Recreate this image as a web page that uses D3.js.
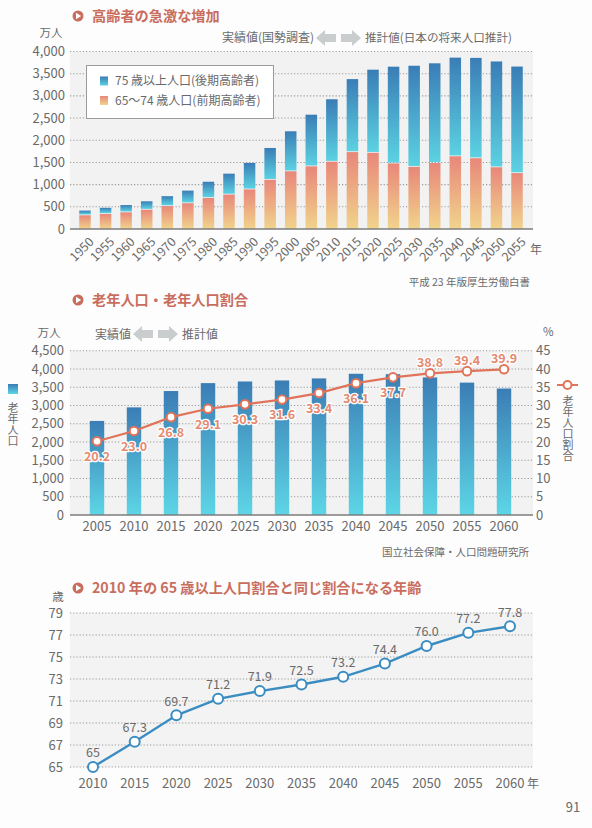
<!DOCTYPE html>
<html>
<head>
<meta charset="utf-8">
<script src="https://cdn.jsdelivr.net/npm/d3@7"></script>
<style>
  html, body { margin: 0; padding: 0; background: #fdfdfd; }
  svg { display: block; font-family: "Noto Sans CJK JP", "Noto Sans", sans-serif; }
</style>
</head>
<body>
<div id="chart"></div>
<script>
(function(d3) {
  'use strict';

  // chart 1: 高齢者の急激な増加 (万人)
  var years1 = ['1950','1955','1960','1965','1970','1975','1980','1985','1990','1995','2000',
                '2005','2010','2015','2020','2025','2030','2035','2040','2045','2050','2055'];
  var old75 = [106, 139, 164, 189, 224, 284, 366, 471, 597, 717, 901,
               1164, 1407, 1645, 1872, 2179, 2278, 2245, 2223, 2261, 2385, 2401];
  var old65 = [309, 339, 376, 435, 516, 581, 699, 776, 892, 1109, 1301,
               1412, 1517, 1733, 1718, 1479, 1401, 1489, 1639, 1595, 1391, 1260];
  var ticks1 = [0, 500, 1000, 1500, 2000, 2500, 3000, 3500, 4000];

  // chart 2: 老年人口・老年人口割合
  var years2 = ['2005','2010','2015','2020','2025','2030','2035','2040','2045','2050','2055','2060'];
  var pop2 = [2576, 2948, 3395, 3612, 3657, 3685, 3741, 3868, 3856, 3768, 3626, 3464];
  var ratio2 = [20.2, 23.0, 26.8, 29.1, 30.3, 31.6, 33.4, 36.1, 37.7, 38.8, 39.4, 39.9];
  var ticks2L = [0, 500, 1000, 1500, 2000, 2500, 3000, 3500, 4000, 4500];
  var ticks2R = [0, 5, 10, 15, 20, 25, 30, 35, 40, 45];

  // chart 3: 2010年の65歳以上人口割合と同じ割合になる年齢
  var years3 = ['2010','2015','2020','2025','2030','2035','2040','2045','2050','2055','2060'];
  var age3 = [65, 67.3, 69.7, 71.2, 71.9, 72.5, 73.2, 74.4, 76.0, 77.2, 77.8];
  var ageLabels3 = ['65','67.3','69.7','71.2','71.9','72.5','73.2','74.4','76.0','77.2','77.8'];
  var ticks3 = [65, 67, 69, 71, 73, 75, 77, 79];

  var width = 592, height = 828;
  var titleColor = '#c96e5e';
  var textColor = '#6a6a6a';
  var gridColor = '#9a9a9a';
  var left = 70, right = 533;

  var svg = d3.select('#chart').append('svg')
    .attr('width', width)
    .attr('height', height);

  var defs = svg.append('defs');
  function vgrad(id, top, bottom) {
    var g = defs.append('linearGradient').attr('id', id)
      .attr('x1', 0).attr('y1', 0).attr('x2', 0).attr('y2', 1);
    g.append('stop').attr('offset', '0%').attr('stop-color', top);
    g.append('stop').attr('offset', '100%').attr('stop-color', bottom);
  }
  vgrad('gBlue', '#3a7db6', '#5cd2e2');
  vgrad('gOrange', '#e8877a', '#f1d48c');
  vgrad('gBlue2', '#3b7db5', '#5dd6e6');

  function title(y, text) {
    var g = svg.append('g');
    g.append('circle').attr('cx', 78).attr('cy', y - 5).attr('r', 5.5).attr('fill', titleColor);
    g.append('path')
      .attr('d', 'M' + 76 + ',' + (y - 8.3) + 'L' + 81.2 + ',' + (y - 5) + 'L' + 76 + ',' + (y - 1.7) + 'Z')
      .attr('fill', '#fff');
    g.append('text').attr('x', 92).attr('y', y)
      .attr('font-size', 14.2).attr('font-weight', 'bold')
      .attr('fill', titleColor).text(text);
  }

  function arrows(x, y) {
    var g = svg.append('g').attr('fill', '#c9cdcd');
    // left arrow
    g.append('path').attr('d',
      'M' + x + ',' + y + 'l9,-8v4h11v8h-11v4z');
    // right arrow
    g.append('path').attr('d',
      'M' + (x + 45) + ',' + y + 'l-9,-8v4h-11v8h11v4z');
  }

  function grid(g, scale, ticks, x0, x1) {
    g.selectAll('.grid').data(ticks).enter().append('line')
      .attr('x1', x0).attr('x2', x1)
      .attr('y1', function(d) { return scale(d); })
      .attr('y2', function(d) { return scale(d); })
      .attr('stroke', gridColor)
      .attr('stroke-width', 1.1)
      .attr('stroke-dasharray', '1.2,2');
  }

  function leftTicks(g, scale, ticks, x, fmt) {
    g.selectAll('.yl').data(ticks).enter().append('text')
      .attr('x', x)
      .attr('y', function(d) { return scale(d); })
      .attr('dy', '0.35em')
      .attr('text-anchor', 'end')
      .attr('font-size', 13)
      .attr('fill', textColor)
      .text(function(d) { return fmt(d); });
  }

  function vtext(x, y, text) {
    svg.append('text')
      .attr('x', x).attr('y', y)
      .attr('writing-mode', 'vertical-rl')
      .attr('font-size', 11)
      .attr('fill', textColor)
      .text(text);
  }

  var comma = d3.format(',');

  // ---------------- chart 1 ----------------
  title(21, '高齢者の急激な増加');
  var c1 = svg.append('g');
  var y1 = d3.scaleLinear().domain([0, 4000]).range([229, 51.5]);
  var x1 = d3.scaleBand().domain(years1).range([74.7, 527.3])
    .paddingInner(0.44).paddingOuter(0.22);

  c1.append('rect').attr('x', left).attr('y', y1(4000))
    .attr('width', right - left).attr('height', y1(0) - y1(4000))
    .attr('fill', '#f2f2f2');
  grid(c1, y1, ticks1.slice(1), left, right);
  leftTicks(c1, y1, ticks1, 65, comma);
  c1.append('text').attr('x', 51).attr('y', 37).attr('text-anchor', 'middle')
    .attr('font-size', 11.5).attr('fill', textColor).text('万人');

  c1.append('text').attr('x', 222).attr('y', 42).attr('font-size', 12)
    .attr('fill', textColor).text('実績値(国勢調査)');
  arrows(316, 38);
  c1.append('text').attr('x', 365).attr('y', 42).attr('font-size', 11.6)
    .attr('fill', textColor).text('推計値(日本の将来人口推計)');

  var stack1 = years1.map(function(y, i) {
    return { year: y, a: old65[i], b: old75[i] };
  });
  var bars1 = c1.selectAll('.bar1').data(stack1).enter().append('g');
  bars1.append('rect')
    .attr('x', function(d) { return x1(d.year); })
    .attr('width', x1.bandwidth())
    .attr('y', function(d) { return y1(d.a); })
    .attr('height', function(d) { return y1(0) - y1(d.a); })
    .attr('fill', 'url(#gOrange)');
  bars1.append('rect')
    .attr('x', function(d) { return x1(d.year); })
    .attr('width', x1.bandwidth())
    .attr('y', function(d) { return y1(d.a + d.b); })
    .attr('height', function(d) { return y1(d.a) - y1(d.a + d.b) - 0.8; })
    .attr('fill', 'url(#gBlue)');

  c1.append('line').attr('x1', left).attr('x2', right)
    .attr('y1', y1(0)).attr('y2', y1(0))
    .attr('stroke', '#7d7d7d').attr('stroke-width', 1.6);

  c1.selectAll('.xl1').data(years1).enter().append('text')
    .attr('transform', function(d) {
      return 'translate(' + (x1(d) + x1.bandwidth() / 2 + 3) + ',' + 236 + ') rotate(-45)';
    })
    .attr('text-anchor', 'end')
    .attr('dy', '0.75em')
    .attr('font-size', 12.5)
    .attr('fill', textColor)
    .text(function(d) { return d; });
  c1.append('text').attr('x', 530).attr('y', 254).attr('font-size', 12)
    .attr('fill', textColor).text('年');

  // legend
  var lg = c1.append('g');
  lg.append('rect').attr('x', 86.5).attr('y', 65.5).attr('width', 187).attr('height', 53)
    .attr('fill', '#fff').attr('stroke', '#9a9a9a').attr('stroke-width', 1);
  var legendItems = [
    { label: '75 歳以上人口(後期高齢者)', fill: 'url(#gBlue)' },
    { label: '65〜74 歳人口(前期高齢者)', fill: 'url(#gOrange)' }
  ];
  var li = lg.selectAll('.li').data(legendItems).enter().append('g')
    .attr('transform', function(d, i) { return 'translate(100,' + (81 + i * 19.5) + ')'; });
  li.append('rect').attr('x', 0).attr('y', -4.5).attr('width', 8).attr('height', 9)
    .attr('fill', function(d) { return d.fill; });
  li.append('text').attr('x', 15).attr('dy', '0.36em').attr('font-size', 12)
    .attr('fill', textColor).text(function(d) { return d.label; });

  c1.append('text').attr('x', 530).attr('y', 286).attr('text-anchor', 'end')
    .attr('font-size', 10.5).attr('fill', textColor).text('平成 23 年版厚生労働白書');

  // ---------------- chart 2 ----------------
  title(305, '老年人口・老年人口割合');
  var c2 = svg.append('g');
  var y2 = d3.scaleLinear().domain([0, 4500]).range([515, 350.7]);
  var y2r = d3.scaleLinear().domain([0, 45]).range([515, 350.7]);
  var x2 = d3.scaleBand().domain(years2).range([78.5, 522.5])
    .paddingInner(0.61).paddingOuter(0.305);

  c2.append('rect').attr('x', left).attr('y', y2(4500))
    .attr('width', right - left).attr('height', y2(0) - y2(4500))
    .attr('fill', '#f2f2f2');
  grid(c2, y2, ticks2L.slice(1), left, right);
  leftTicks(c2, y2, ticks2L, 64, comma);

  c2.selectAll('.yr').data(ticks2R).enter().append('text')
    .attr('x', 536)
    .attr('y', function(d) { return y2r(d); })
    .attr('dy', '0.35em')
    .attr('font-size', 13)
    .attr('fill', textColor)
    .text(function(d) { return d; });
  c2.append('text').attr('x', 543).attr('y', 336).attr('font-size', 11.5)
    .attr('fill', textColor).text('%');
  c2.append('text').attr('x', 49).attr('y', 337).attr('text-anchor', 'middle')
    .attr('font-size', 11.5).attr('fill', textColor).text('万人');

  c2.append('text').attr('x', 95).attr('y', 339).attr('font-size', 12)
    .attr('fill', textColor).text('実績値');
  arrows(133, 334);
  c2.append('text').attr('x', 182).attr('y', 339).attr('font-size', 12)
    .attr('fill', textColor).text('推計値');

  c2.selectAll('.bar2').data(pop2).enter().append('rect')
    .attr('x', function(d, i) { return x2(years2[i]); })
    .attr('width', x2.bandwidth())
    .attr('y', function(d) { return y2(d); })
    .attr('height', function(d) { return y2(0) - y2(d); })
    .attr('fill', 'url(#gBlue2)');

  c2.append('line').attr('x1', left).attr('x2', right)
    .attr('y1', y2(0)).attr('y2', y2(0))
    .attr('stroke', '#7d7d7d').attr('stroke-width', 1.6);

  var lineColor2 = '#e0735a';
  var cx2 = function(i) { return x2(years2[i]) + x2.bandwidth() / 2; };
  var line2 = d3.line()
    .x(function(d, i) { return cx2(i); })
    .y(function(d) { return y2r(d); });
  c2.append('path').datum(ratio2).attr('d', line2)
    .attr('fill', 'none').attr('stroke', lineColor2).attr('stroke-width', 2.2);
  c2.selectAll('.pt2').data(ratio2).enter().append('circle')
    .attr('cx', function(d, i) { return cx2(i); })
    .attr('cy', function(d) { return y2r(d); })
    .attr('r', 4.3)
    .attr('fill', '#fff').attr('stroke', lineColor2).attr('stroke-width', 2);
  c2.selectAll('.lb2').data(ratio2).enter().append('text')
    .attr('x', function(d, i) { return cx2(i); })
    .attr('y', function(d, i) { return y2r(d) + (i < 9 ? 15.5 : -11); })
    .attr('dy', '0.35em')
    .attr('text-anchor', 'middle')
    .attr('font-size', 12.5)
    .attr('font-weight', 'bold')
    .attr('fill', '#e58a70')
    .attr('stroke', '#fff').attr('stroke-width', 2.5)
    .attr('paint-order', 'stroke')
    .text(function(d) { return d.toFixed(1); });

  c2.selectAll('.xl2').data(years2).enter().append('text')
    .attr('x', function(d, i) { return cx2(i); })
    .attr('y', 526)
    .attr('dy', '0.35em')
    .attr('text-anchor', 'middle')
    .attr('font-size', 13)
    .attr('fill', textColor)
    .text(function(d) { return d; });

  // side legends
  c2.append('rect').attr('x', 8).attr('y', 384).attr('width', 10).attr('height', 10)
    .attr('fill', 'url(#gBlue2)');
  vtext(13, 402, '老年人口');
  c2.append('line').attr('x1', 557).attr('x2', 578).attr('y1', 385).attr('y2', 385)
    .attr('stroke', lineColor2).attr('stroke-width', 2);
  c2.append('circle').attr('cx', 567.5).attr('cy', 385).attr('r', 4)
    .attr('fill', '#fff').attr('stroke', lineColor2).attr('stroke-width', 2);
  vtext(568, 395, '老年人口割合');

  c2.append('text').attr('x', 529).attr('y', 556).attr('text-anchor', 'end')
    .attr('font-size', 10.5).attr('fill', textColor).text('国立社会保障・人口問題研究所');

  // ---------------- chart 3 ----------------
  title(593, '2010 年の 65 歳以上人口割合と同じ割合になる年齢');
  var c3 = svg.append('g');
  var y3 = d3.scaleLinear().domain([65, 79]).range([767, 613]);
  var x3 = d3.scalePoint().domain(years3).range([93, 510]);

  c3.append('rect').attr('x', left).attr('y', y3(79))
    .attr('width', right - left).attr('height', y3(65) - y3(79))
    .attr('fill', '#f3f3f3');
  grid(c3, y3, ticks3, left, right);
  leftTicks(c3, y3, ticks3, 63, function(d) { return d; });
  c3.append('text').attr('x', 58).attr('y', 601).attr('text-anchor', 'middle')
    .attr('font-size', 11.5).attr('fill', textColor).text('歳');

  var lineColor3 = '#3b8dc1';
  var line3 = d3.line()
    .x(function(d, i) { return x3(years3[i]); })
    .y(function(d) { return y3(d); });
  c3.append('path').datum(age3).attr('d', line3)
    .attr('fill', 'none').attr('stroke', lineColor3).attr('stroke-width', 2.4);
  c3.selectAll('.pt3').data(age3).enter().append('circle')
    .attr('cx', function(d, i) { return x3(years3[i]); })
    .attr('cy', function(d) { return y3(d); })
    .attr('r', 5)
    .attr('fill', '#fff').attr('stroke', lineColor3).attr('stroke-width', 2);
  c3.selectAll('.lb3').data(age3).enter().append('text')
    .attr('x', function(d, i) { return x3(years3[i]); })
    .attr('y', function(d) { return y3(d) - 14; })
    .attr('dy', '0.35em')
    .attr('text-anchor', 'middle')
    .attr('font-size', 12.5)
    .attr('fill', textColor)
    .text(function(d, i) { return ageLabels3[i]; });

  c3.selectAll('.xl3').data(years3).enter().append('text')
    .attr('x', function(d) { return x3(d); })
    .attr('y', 783)
    .attr('dy', '0.35em')
    .attr('text-anchor', 'middle')
    .attr('font-size', 13)
    .attr('fill', textColor)
    .text(function(d) { return d; });
  c3.append('text').attr('x', 527).attr('y', 787.5).attr('font-size', 12)
    .attr('fill', textColor).text('年');

  svg.append('text').attr('x', 573).attr('y', 807).attr('dy', '0.35em')
    .attr('text-anchor', 'middle').attr('font-size', 13)
    .attr('fill', textColor).text('91');

})(window.d3);
</script>
</body>
</html>
